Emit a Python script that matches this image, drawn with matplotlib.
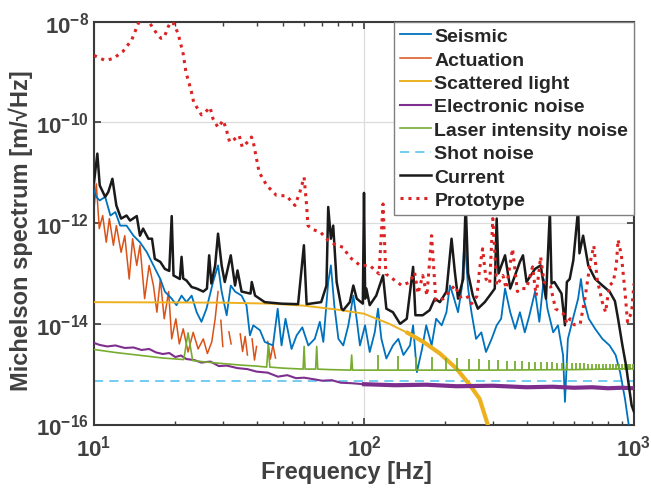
import numpy as np
import matplotlib
matplotlib.use("Agg")
import matplotlib.pyplot as plt
from matplotlib.ticker import LogLocator, NullLocator, NullFormatter

plt.rcParams['font.family'] = ['Liberation Sans', 'DejaVu Sans']
plt.rcParams['font.weight'] = 'bold'
plt.rcParams['mathtext.fontset'] = 'custom'
plt.rcParams['mathtext.bf'] = 'Liberation Sans:bold'
plt.rcParams['mathtext.rm'] = 'Liberation Sans:bold'

# amplitudes are stored as log10 of m/sqrt(Hz)
seismic_f = [10.0, 10.2, 10.5, 11.0, 11.5, 12.0, 12.5, 13.2, 14.0, 14.8, 15.7, 16.6, 17.6, 18.3, 19.4, 20.2,
             21.1, 22.0, 23.0, 24.0, 25.0, 26.1, 27.6, 28.8, 29.7, 31.0, 32.1, 33.3, 35.2, 36.7, 37.8, 38.9,
             41.2, 42.9, 46.0, 47.9, 49.5, 51.2, 53.9, 56.3, 59.1, 62.2, 65.7, 68.6, 70.7, 73.7, 75.4, 77.6,
             80.4, 83.8, 87.5, 91.3, 93.9, 96.6, 100.9, 105, 109.6, 112.7, 116, 121, 128, 134, 140, 148, 152,
             157, 164, 170, 178, 185, 194, 202, 208, 214, 223, 230, 236, 243, 250, 260, 272, 283, 297, 310,
             322, 333, 348, 363, 378, 394, 410, 430, 446, 463, 478, 502, 523, 546, 555, 569, 594, 621, 636,
             650, 680, 718, 764, 812, 855, 888, 926, 949, 975]
seismic_log = [-11.35, -11.48, -11.55, -11.48, -11.85, -11.78, -12.05, -12.05, -12.25, -12.38, -12.58, -12.84,
               -13.11, -13.36, -13.50, -13.63, -13.44, -13.57, -13.44, -13.77, -13.96, -13.70, -13.17, -12.84,
               -13.36, -13.83, -13.24, -13.36, -13.44, -13.63, -14.23, -14.03, -14.13, -14.36, -14.43, -13.70,
               -14.43, -13.90, -14.50, -14.23, -14.07, -14.43, -14.30, -13.96, -14.36, -13.17, -12.84, -13.63,
               -14.30, -14.43, -14.03, -13.44, -13.90, -14.43, -14.03, -14.56, -14.17, -13.70, -14.30, -14.69,
               -14.43, -14.30, -14.62, -14.43, -14.03, -14.96, -14.50, -14.03, -14.43, -13.90, -14.03, -13.77,
               -13.24, -13.44, -13.77, -13.30, -12.31, -13.30, -13.77, -14.30, -14.17, -14.56, -14.30, -14.03,
               -13.90, -13.30, -13.77, -14.10, -13.77, -14.17, -13.83, -13.36, -13.96, -13.11, -13.70, -14.17,
               -14.03, -14.62, -15.55, -14.30, -13.90, -13.50, -13.11, -13.50, -13.90, -14.10, -14.30, -14.43,
               -14.62, -14.96, -15.49, -15.89, -16.30]

actuation_f = [10.0, 10.2, 10.46, 10.77, 11.1, 11.4, 11.8, 12.1, 12.6, 13.0, 13.5, 13.9, 14.4, 14.8, 15.4, 16.0,
               16.6, 17.1, 17.6, 18.2, 18.9, 19.4, 20.1, 20.7, 21.4, 22.3, 23.3, 24.3, 25.4, 26.3, 27.3, 28.1,
               28.8, np.nan, 29.5, 30.0, np.nan, 31.6, 32.2, np.nan, 34.8, 35.5, 36.3, 37.0, np.nan, 38.5, 39.3,
               40.0, np.nan, 44.0, 45.0, 46.0, 47.0]
actuation_log = [-11.72, -11.22, -12.11, -11.85, -12.38, -11.91, -12.44, -12.05, -12.58, -12.25, -13.11, -12.31,
                 -12.84, -12.44, -13.50, -12.84, -13.24, -13.77, -13.11, -13.90, -13.36, -14.30, -13.90, -14.40,
                 -14.10, -14.56, -14.17, -14.50, -14.30, -14.59, -14.36, -13.90, -13.36, np.nan, -13.93, -14.45,
                 np.nan, -14.16, -14.40, np.nan, -14.20, -14.55, -14.25, -14.62, np.nan, -14.30, -14.72, -14.45,
                 np.nan, -14.35, -14.70, -14.42, -14.68]

scatter_f = [10, 30, 45, 60, 80, 100, 124, 145, 166, 191, 220, 247, 268, 283, 295]
scatter_log = [-13.57, -13.58, -13.60, -13.64, -13.72, -13.80, -14.00, -14.18, -14.36, -14.59, -14.89, -15.22,
               -15.49, -15.89, -16.20]

electronic_f = [10, 10.5, 11.2, 12, 13, 14, 15, 16, 17, 18, 19, 20, 21, 22, 23.5, 25, 27, 29, 31, 34, 37, 40,
                44, 48, 52, 56, 60, 65, 70, 76, 82, 90, 100, 130, 170, 220, 300, 400, 500, 600, 700, 800, 900, 1000]
electronic_log = [-14.38, -14.42, -14.45, -14.43, -14.48, -14.47, -14.52, -14.50, -14.57, -14.60, -14.58, -14.66,
                  -14.63, -14.70, -14.72, -14.77, -14.75, -14.84, -14.83, -14.88, -14.90, -14.95, -14.97, -15.05,
                  -15.02, -15.08, -15.07, -15.10, -15.13, -15.12, -15.17, -15.18, -15.20, -15.22, -15.21, -15.24,
                  -15.23, -15.26, -15.25, -15.27, -15.26, -15.28, -15.27, -15.28]

laser_f = [10, 12, 15, 18, 21.5, 22.3, 23.2, 26, 30, 35, 40, 43.6, 44.2, 44.8, 50, 59.5, 60.0, 60.5, 66.2, 66.8,
           67.4, 75, 89.3, 90.0, 90.7, 100, 150, 300, 600, 1000]
laser_log = [-14.51, -14.57, -14.63, -14.68, -14.71, -14.18, -14.73, -14.76, -14.79, -14.82, -14.84, -14.86,
             -14.43, -14.86, -14.88, -14.90, -14.45, -14.90, -14.90, -14.45, -14.90, -14.91, -14.92, -14.62,
             -14.92, -14.92, -14.92, -14.92, -14.91, -14.89]
laser_spike_f = [112.3, 134.0, 155.8, 178.1, 200.7, 221.7, 244.2, 267.5, 290.4, 314.5, 337.6, 361.4, 384.7, 407,
                 430, 452, 475, 497, 520, 542, 565, 587, 610, 632, 655, 677, 700, 722, 745, 767, 790, 812, 835,
                 857, 880, 902, 925, 947, 970, 992]
laser_spike_log = [-14.62, -14.63, -14.65, -14.66, -14.68, -14.68, -14.70, -14.70, -14.72, -14.72, -14.73, -14.74,
                   -14.74, -14.75, -14.75, -14.76, -14.76, -14.76, -14.77, -14.77, -14.77, -14.78, -14.78, -14.78,
                   -14.78, -14.79, -14.79, -14.79, -14.79, -14.80, -14.80, -14.80, -14.80, -14.80, -14.80, -14.80,
                   -14.80, -14.80, -14.80, -14.80]
laser_floor_log = -14.91

shot_f = [10, 1000]
shot_log = [-15.135, -15.135]

current_f = [10.0, 10.29, 10.5, 11.0, 11.3, 11.7, 12.1, 12.6, 13.2, 13.6, 14.4, 14.8, 15.2, 15.9, 16.4, 16.8, 17.6,
             18.3, 19.0, 19.4, 19.7, 20.8, 21.1, 21.4, 22.0, 23.0, 24.0, 25.4, 26.2, 26.7, 27.2, 28.1, 28.8, 29.7,
             30.5, 32.1, 33.3, 34.0, 35.2, 38.0, 38.4, 39.5, 42.9, 49.5, 57.0, 59.9, 61.3, 69.4, 72.6, 73.7, 75.4,
             76.9, 79.2, 82.6, 83.8, 88.6, 91.3, 94.0, 99.0, 100.0, 101.0, 102, 105, 111, 117.6, 121, 128, 136,
             144, 152, 155, 165, 175, 183, 191, 202, 211, 217, 223, 233, 238, 243, 253, 264, 280, 292, 305, 310,
             315, 333, 348, 378, 388, 400, 430, 451, 472, 488, 495, 507, 539, 555, 564, 578, 596, 621, 628, 648,
             677, 718, 764, 812, 850, 873, 906, 936, 949, 980, 1000]
current_log = [-11.19, -10.62, -11.25, -11.48, -11.38, -11.12, -11.65, -11.91, -11.85, -11.95, -11.86, -12.25,
               -12.11, -12.31, -12.31, -12.71, -12.77, -12.91, -12.95, -11.86, -13.04, -13.11, -12.67, -13.10,
               -13.14, -13.27, -13.30, -13.36, -13.30, -12.64, -13.20, -12.84, -12.21, -12.84, -13.17, -12.64,
               -13.24, -12.94, -13.36, -13.40, -13.17, -13.44, -13.57, -13.60, -13.61, -12.44, -13.61, -13.57,
               -13.24, -11.68, -12.31, -12.05, -13.17, -13.70, -13.73, -13.57, -13.24, -13.50, -13.60, -11.40,
               -13.50, -13.30, -13.63, -13.44, -13.04, -13.70, -13.77, -14.00, -13.90, -12.87, -13.83, -13.83,
               -13.73, -13.50, -13.57, -13.36, -12.31, -12.97, -13.50, -13.11, -11.60, -13.00, -13.44, -13.70,
               -13.57, -13.44, -13.30, -11.91, -13.00, -12.64, -13.30, -12.77, -12.64, -13.17, -12.91, -12.84,
               -13.50, -11.76, -13.20, -13.17, -13.40, -14.03, -13.17, -13.11, -12.74, -11.72, -12.60, -12.25,
               -12.84, -13.11, -13.24, -13.36, -13.55, -13.90, -14.43, -14.85, -15.09, -15.62, -15.75]

proto_f = [10.0, 11.0, 11.8, 12.8, 13.8, 14.6, 15.2, 16.0, 17.1, 17.7, 18.2, 18.8, 19.2, 19.7, 20.5, 21.4, 21.9,
           22.9, 23.4, 25.0, 25.8, 26.9, 27.6, 28.8, 30.1, 30.9, 31.8, 33.0, 34.5, 35.4, 37.6, 38.3, 38.9, 40.9,
           43.6, 47.4, 51.7, 55.5, 57.9, 60.0, 61.3, 62.0, 64.8, 69.0, 73.8, 78.4, 83.6, 88.6, 96.7, 105, 113.7,
           117.6, 120.5, 128, 138, 148, 154, 158.5, 165, 171, 178, 184.6, 197, 208, 217, 227, 240, 250, 262, 268,
           275, 283, 292, 300, 310, 327, 336, 355, 370, 378, 400, 421, 434, 451, 464, 490, 512, 548, 565, 580,
           600, 632, 658, 689, 710, 730, 763, 785, 810, 838, 860, 873, 898, 926, 946, 980, 1000]
proto_log = [-8.67, -8.77, -8.73, -8.59, -8.36, -8.03, -7.85, -8.01, -8.24, -8.33, -8.31, -8.11, -8.01, -8.03,
             -8.24, -8.64, -9.00, -9.37, -9.60, -9.85, -9.80, -9.70, -9.93, -10.10, -9.96, -10.14, -10.39, -10.34,
             -10.26, -10.49, -10.36, -10.29, -10.39, -10.99, -11.25, -11.45, -11.46, -11.65, -11.38, -11.09,
             -11.65, -12.05, -12.13, -12.18, -12.35, -12.43, -12.48, -12.68, -12.84, -12.84, -13.01, -11.62,
             -13.01, -13.11, -13.24, -13.17, -12.98, -13.40, -13.04, -13.44, -12.25, -13.54, -13.50, -13.34,
             -13.24, -13.47, -13.44, -13.60, -13.45, -12.91, -12.51, -13.11, -13.20, -11.91, -13.24, -13.04,
             -13.30, -12.51, -13.36, -13.30, -13.30, -12.87, -13.44, -12.67, -13.17, -13.24, -13.70, -13.80,
             -14.00, -13.90, -14.02, -14.00, -13.50, -12.77, -12.45, -13.11, -13.57, -13.77, -13.24, -13.17,
             -12.84, -12.33, -12.64, -13.36, -13.96, -13.77, -13.20]

c_blue = '#0072BD'
c_orange = '#D95319'
c_yellow = '#EDB120'
c_purple = '#7E2F8E'
c_green = '#77AC30'
c_sky = '#4DBEEE'
c_red = '#DC2222'


def amp(v):
    return 10.0 ** np.asarray(v, dtype=float)


fig = plt.figure(figsize=(6.51, 4.89), dpi=100)
ax = fig.add_axes([94 / 651, 63.5 / 489, 540 / 651, 402.8 / 489])

ax.plot(seismic_f, amp(seismic_log), color=c_blue, lw=1.3, label='Seismic', zorder=3)
ax.plot(actuation_f, amp(actuation_log), color=c_orange, lw=1.1, label='Actuation', zorder=2)
ax.plot(scatter_f, amp(scatter_log), color=c_yellow, lw=1.4, label='Scattered light', zorder=3)
# the high-frequency part of the scattered light trace is a noisy, thick band
ax.plot(scatter_f[7:], amp(scatter_log[7:]), color=c_yellow, lw=3.0, zorder=3)
ax.plot(electronic_f, amp(electronic_log), color=c_purple, lw=1.5, label='Electronic noise', zorder=3)
ax.plot(electronic_f[32:], amp(electronic_log[32:]), color=c_purple, lw=3.0, zorder=3)
ax.plot(laser_f, amp(laser_log), color=c_green, lw=1.2, label='Laser intensity noise', zorder=3)
ax.vlines(laser_spike_f, amp(laser_floor_log), amp(laser_spike_log), color=c_green, lw=1.3, zorder=3)
ax.plot(shot_f, amp(shot_log), color=c_sky, lw=1.1, ls=(0, (6, 4)), label='Shot noise', zorder=2)
ax.plot(current_f, amp(current_log), color='#1a1a1a', lw=1.8, label='Current', zorder=4)
ax.plot(proto_f, amp(proto_log), color=c_red, lw=2.2, ls=(0, (1, 1.6)), label='Prototype', zorder=5)

ax.set_xscale('log')
ax.set_yscale('log')
ax.set_xlim(10, 1000)
ax.set_ylim(1e-16, 1e-8)

ax.set_xticks([10, 100, 1000])
ax.set_xticklabels([r'$\mathbf{10^{1}}$', r'$\mathbf{10^{2}}$', r'$\mathbf{10^{3}}$'])
ax.xaxis.set_minor_locator(LogLocator(base=10, subs=np.arange(2, 10)))
ax.xaxis.set_minor_formatter(NullFormatter())
ax.set_yticks([1e-16, 1e-14, 1e-12, 1e-10, 1e-8])
ax.set_yticklabels([r'$\mathbf{10^{-16}}$', r'$\mathbf{10^{-14}}$', r'$\mathbf{10^{-12}}$',
                    r'$\mathbf{10^{-10}}$', r'$\mathbf{10^{-8}}$'])
ax.yaxis.set_minor_locator(NullLocator())

txt = '#404040'
ax.tick_params(which='both', direction='in', top=True, right=True, colors='#3a3a3a',
               labelcolor=txt, labelsize=16)
ax.tick_params(axis='x', which='major', pad=7)
ax.tick_params(which='major', length=5, width=1.2)
ax.tick_params(which='minor', length=3, width=1.0)
for s in ax.spines.values():
    s.set_color('#3a3a3a')
    s.set_linewidth(1.5)
ax.grid(True, which='major', color='#dcdcdc', lw=0.9)
ax.set_axisbelow(True)

ax.set_xlabel('Frequency [Hz]', fontsize=17, fontweight='bold', color=txt)
ax.set_ylabel('Michelson spectrum [m/\u221aHz]', fontsize=17, fontweight='bold', color=txt)
ax.xaxis.set_label_coords(0.467, -0.087)
ax.yaxis.set_label_coords(-0.113, 0.485)

leg = ax.legend(loc='upper right', borderaxespad=0, fontsize=14, frameon=True, fancybox=False,
                framealpha=1, edgecolor='#808080', handlelength=1.6, handletextpad=0.15,
                labelspacing=0.3, borderpad=0.3)
leg.get_frame().set_linewidth(1.0)
leg.set_zorder(10)
for t in leg.get_texts():
    t.set_color('#262626')
    t.set_fontweight('bold')

fig.savefig('out.png', dpi=100)
